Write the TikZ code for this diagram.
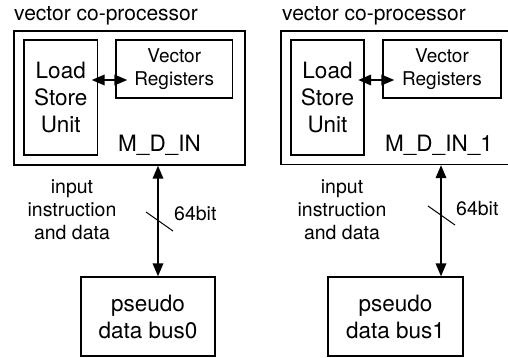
\documentclass[tikz,border=0pt]{standalone}
\usepackage{fontspec}
\setmainfont{TeX Gyre Heros}
\usetikzlibrary{positioning, arrows.meta}

\begin{document}
\begin{tikzpicture}[
  x=1pt, y=-1pt,
  box/.style={draw, line width=1.3pt, inner sep=0pt, align=center},
  lbl/.style={inner sep=0pt, align=center},
  biarrow/.style={line width=1.8pt, {Triangle[length=13pt,width=10.5pt]}-{Triangle[length=13pt,width=10.5pt]}},
  bigfont/.style={font=\fontsize{22.5}{27}\selectfont},
  smallfont/.style={font=\fontsize{19.5}{23}\selectfont}
]
\useasboundingbox (0,0) rectangle (508,358);
\clip (0,0) rectangle (508,358);

% Left co-processor
\node (copA) [box, minimum width=231pt, minimum height=134pt] at (129.5,98) {};
\node (titleA) [lbl, anchor=base west, font=\fontsize{21}{25}\selectfont] at (14,21) {vector co-processor};
\node (lsuA) [box, bigfont, minimum width=73.5pt, minimum height=115pt] at (60.75,97.5) {Load\\Store\\Unit};
\node (vregA) [box, font=\fontsize{19}{23}\selectfont, minimum width=116.5pt, minimum height=58pt] at (174.25,69) {Vector\\Registers};
\node (nameA) [lbl, bigfont, anchor=base] at (159.5,152) {M\_D\_IN};
\node (busA) [box, bigfont, minimum width=134pt, minimum height=79pt] at (148,316.5) {pseudo\\data bus0};
\node (inA) [lbl, smallfont] at (72,210) {input\\instruction\\and data};
\node (bitA) [lbl, smallfont, anchor=base west] at (174,220) {64bit};
\coordinate (bwA) at (158,221.5);

% Right co-processor (runs off the right edge)
\node (copB) [box, minimum width=240pt, minimum height=133.5pt] at (401,97.75) {};
\node (titleB) [lbl, anchor=base west, font=\fontsize{21}{25}\selectfont] at (282,21) {vector co-processor};
\node (lsuB) [box, bigfont, minimum width=73pt, minimum height=115pt] at (327.5,97.5) {Load\\Store\\Unit};
\node (vregB) [box, font=\fontsize{19}{23}\selectfont, minimum width=118pt, minimum height=58pt] at (442,69) {Vector\\Registers};
\node (nameB) [lbl, bigfont, anchor=base] at (439,152) {M\_D\_IN\_1};
\node (busB) [box, bigfont, minimum width=135pt, minimum height=79pt] at (395.5,316.5) {pseudo\\data bus1};
\node (inB) [lbl, smallfont] at (342,210) {input\\instruction\\and data};
\node (bitB) [lbl, smallfont, anchor=base west] at (456,215) {64bit};
\coordinate (bwB) at (441,215.5);

% Arrows
\draw[biarrow] ([xshift=-6.5pt,yshift=-11pt]vregA.west -| lsuA.east) -- ([xshift=12pt,yshift=-11pt]vregA.west);
\draw[biarrow] ([xshift=-6.5pt,yshift=-11pt]vregB.west -| lsuB.east) -- ([xshift=12pt,yshift=-11pt]vregB.west);
\draw[biarrow] ([xshift=10pt]busA.north) -- ([xshift=10pt]busA.north |- copA.south);
\draw[biarrow] ([xshift=45.5pt]busB.north) -- ([xshift=45.5pt]busB.north |- copB.south);

% Bus width marks
\draw[line width=1pt] (bwA) ++(-12,-9.5) -- ++(27,19);
\draw[line width=1pt] (bwB) ++(-13,-9.5) -- ++(27,19);

\end{tikzpicture}
\end{document}
